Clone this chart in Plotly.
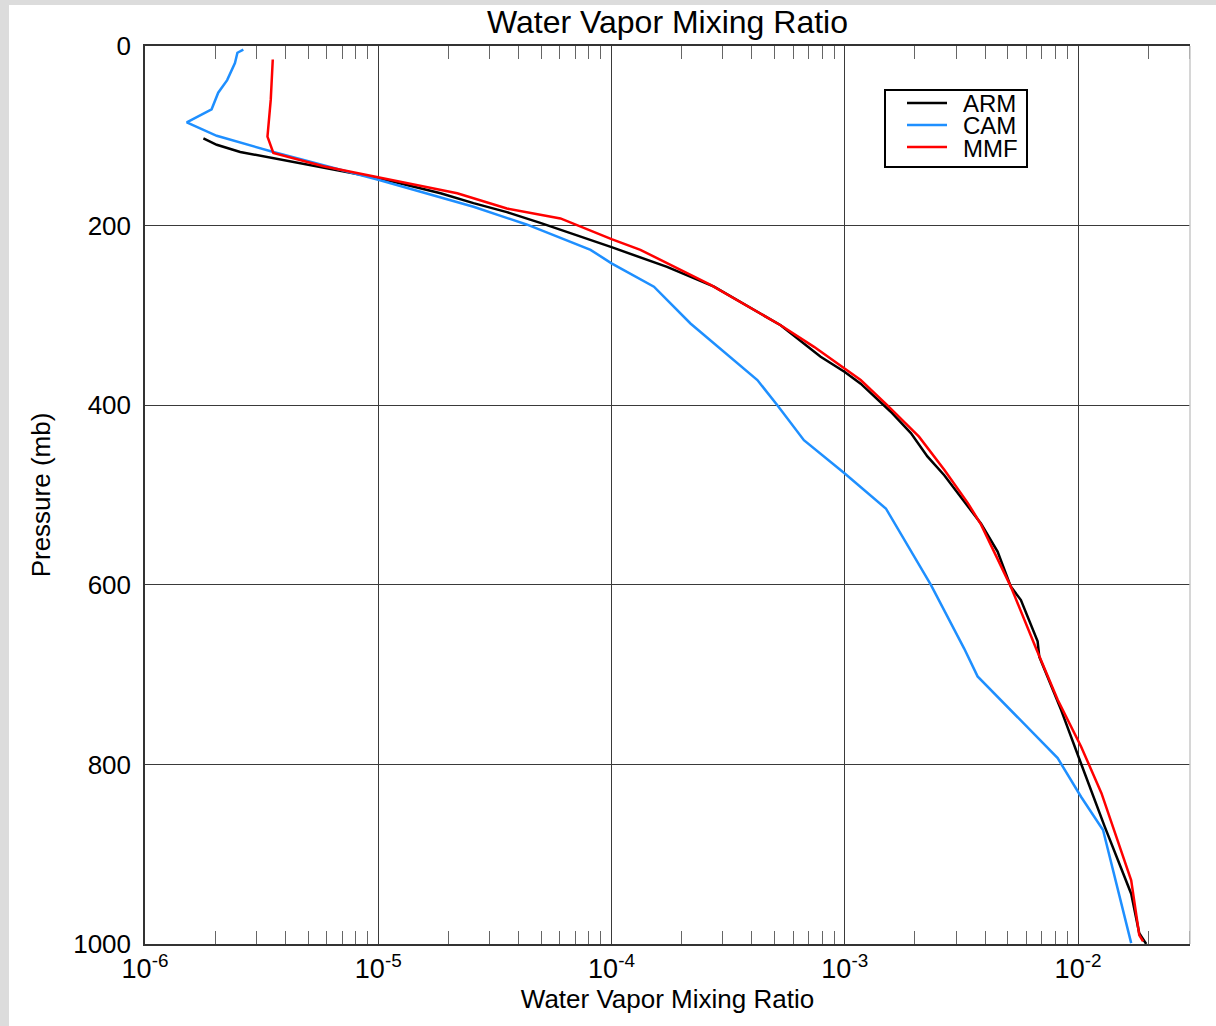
import plotly.graph_objects as go

# ---- data ----
arm_p = [103, 110, 118, 125, 136, 147, 164, 175, 185, 197, 224, 246, 268, 300, 311, 346, 363,
         376, 407, 431, 457, 478, 513, 532, 563, 602, 617, 663, 680, 739, 799, 869, 944, 988, 1000]
arm_q = [1.78e-6, 2.03e-6, 2.56e-6, 3.55e-6, 5.82e-6, 1.0e-5, 1.85e-5, 2.56e-5, 3.56e-5, 4.95e-5,
         1.0e-4, 1.73e-4, 2.75e-4, 4.51e-4, 5.31e-4, 7.88e-4, 1.0e-3, 1.17e-3, 1.57e-3, 1.92e-3,
         2.26e-3, 2.67e-3, 3.37e-3, 3.84e-3, 4.52e-3, 5.15e-3, 5.69e-3, 6.71e-3, 6.82e-3, 8.45e-3,
         1.03e-2, 1.30e-2, 1.69e-2, 1.83e-2, 1.96e-2]

cam_p = [4, 7.5, 19, 38, 52, 70.5, 85, 100, 118, 149, 179, 199, 227, 242, 268, 309, 372, 400,
         439, 476, 515, 600, 671, 702, 793, 836, 873, 999]
cam_q = [2.64e-6, 2.49e-6, 2.43e-6, 2.25e-6, 2.06e-6, 1.93e-6, 1.51e-6, 2.03e-6, 3.55e-6, 1.0e-5,
         2.56e-5, 4.35e-5, 8.13e-5, 1.0e-4, 1.52e-4, 2.18e-4, 4.22e-4, 5.14e-4, 6.68e-4, 1.0e-3,
         1.50e-3, 2.34e-3, 3.25e-3, 3.71e-3, 8.18e-3, 1.03e-2, 1.28e-2, 1.69e-2]

mmf_p = [15, 60, 101, 119, 134, 146, 164, 181, 192, 215, 227, 266, 311, 335, 359, 372, 400, 435,
         472, 509, 533, 602, 671, 684, 728, 780, 832, 929, 990, 997]
mmf_q = [3.53e-6, 3.46e-6, 3.35e-6, 3.55e-6, 5.82e-6, 1.0e-5, 2.18e-5, 3.56e-5, 6.04e-5, 1.0e-4,
         1.33e-4, 2.66e-4, 5.31e-4, 7.38e-4, 1.0e-3, 1.17e-3, 1.52e-3, 2.08e-3, 2.67e-3, 3.37e-3,
         3.84e-3, 5.15e-3, 6.61e-3, 6.93e-3, 8.18e-3, 1.03e-2, 1.26e-2, 1.69e-2, 1.83e-2, 1.90e-2]

series_names = ["ARM", "CAM", "MMF"]
series_colors = ["#000000", "#1E8FFF", "#FF0000"]

x_tickvals = [1e-6, 1e-5, 1e-4, 1e-3, 1e-2]
x_ticktext = ["10<sup>-6</sup>", "10<sup>-5</sup>", "10<sup>-4</sup>", "10<sup>-3</sup>", "10<sup>-2</sup>"]
y_tickvals = [0, 200, 400, 600, 800, 1000]
y_ticktext = ["0", "200", "400", "600", "800", "1000"]
minor_vals = [m * 10.0 ** e for e in range(-6, -1) for m in range(2, 10)] + [2e-2, 3e-2]

FONT = "Liberation Sans, Arial, Helvetica, sans-serif"

fig = go.Figure()
for q, p, nm, col in zip([arm_q, cam_q, mmf_q], [arm_p, cam_p, mmf_p], series_names, series_colors):
    fig.add_trace(go.Scatter(x=q, y=p, mode="lines", name=nm, showlegend=False,
                             line=dict(color=col, width=2.5)))

L, R, T, B = 145, 26, 46, 82
W, H = 1216, 1026
pw, ph = W - L - R, H - T - B


def px_x(px):
    return (px - L) / pw


def px_y(py):
    return (H - B - py) / ph


shapes = [
    # light grey right frame edge
    dict(type="line", xref="paper", yref="paper", x0=1, x1=1, y0=0, y1=1,
         line=dict(color="#c8c8c8", width=1.5), layer="above"),
    # grey window border strips (left and top)
    dict(type="rect", xref="paper", yref="paper", x0=px_x(0), x1=px_x(9),
         y0=px_y(H), y1=px_y(0), fillcolor="#dcdcdc", line=dict(width=0), layer="below"),
    dict(type="rect", xref="paper", yref="paper", x0=px_x(0), x1=px_x(W),
         y0=px_y(5), y1=px_y(0), fillcolor="#dcdcdc", line=dict(width=0), layer="below"),
    # legend box
    dict(type="rect", xref="paper", yref="paper", x0=px_x(885), x1=px_x(1027),
         y0=px_y(167), y1=px_y(90), fillcolor="white", line=dict(color="black", width=2),
         layer="above"),
]
annotations = []
for i, (nm, col) in enumerate(zip(series_names, series_colors)):
    yy = 103 + 22 * i
    shapes.append(dict(type="line", xref="paper", yref="paper", x0=px_x(907), x1=px_x(947),
                       y0=px_y(yy), y1=px_y(yy), line=dict(color=col, width=2.5), layer="above"))
    annotations.append(dict(text=nm, xref="paper", yref="paper", x=px_x(961), y=px_y(yy + 1),
                            xanchor="left", yanchor="middle", showarrow=False,
                            font=dict(size=24, family=FONT, color="black")))

fig.update_layout(
    width=W, height=H,
    margin=dict(l=L, r=R, t=T, b=B),
    paper_bgcolor="white", plot_bgcolor="white",
    font=dict(family=FONT, size=26, color="black"),
    title=dict(text="Water Vapor Mixing Ratio", x=(L + pw / 2) / W, xanchor="center",
               y=1 - 22 / H, yanchor="middle", font=dict(size=32, family=FONT, color="black")),
    showlegend=False,
    xaxis=dict(type="log", range=[-6, -1.52],
               tickmode="array", tickvals=x_tickvals, ticktext=x_ticktext,
               ticks="", showgrid=True, gridcolor="#3a3a3a", gridwidth=1,
               showline=True, linecolor="#333333", linewidth=1.5, mirror="allticks",
               zeroline=False,
               minor=dict(tickmode="array", tickvals=minor_vals, ticks="inside", ticklen=13,
                          tickcolor="#666666", tickwidth=1, showgrid=False),
               title=dict(text="Water Vapor Mixing Ratio", standoff=4,
                          font=dict(size=26, family=FONT, color="black")),
               tickfont=dict(size=27, family=FONT, color="black")),
    yaxis=dict(range=[1000, 0], tickmode="array", tickvals=y_tickvals, ticktext=y_ticktext,
               ticks="", showgrid=True, gridcolor="#3a3a3a", gridwidth=1,
               showline=True, linecolor="#333333", linewidth=1.5, mirror=False,
               zeroline=False, ticklabelstandoff=7,
               title=dict(text="Pressure (mb)", standoff=15,
                          font=dict(size=26, family=FONT, color="black")),
               tickfont=dict(size=26, family=FONT, color="black")),
    shapes=shapes,
    annotations=annotations,
)

fig.write_html("out.html", config={"displayModeBar": False},
               post_script="document.body.style.margin='0';document.body.style.overflow='hidden';")
